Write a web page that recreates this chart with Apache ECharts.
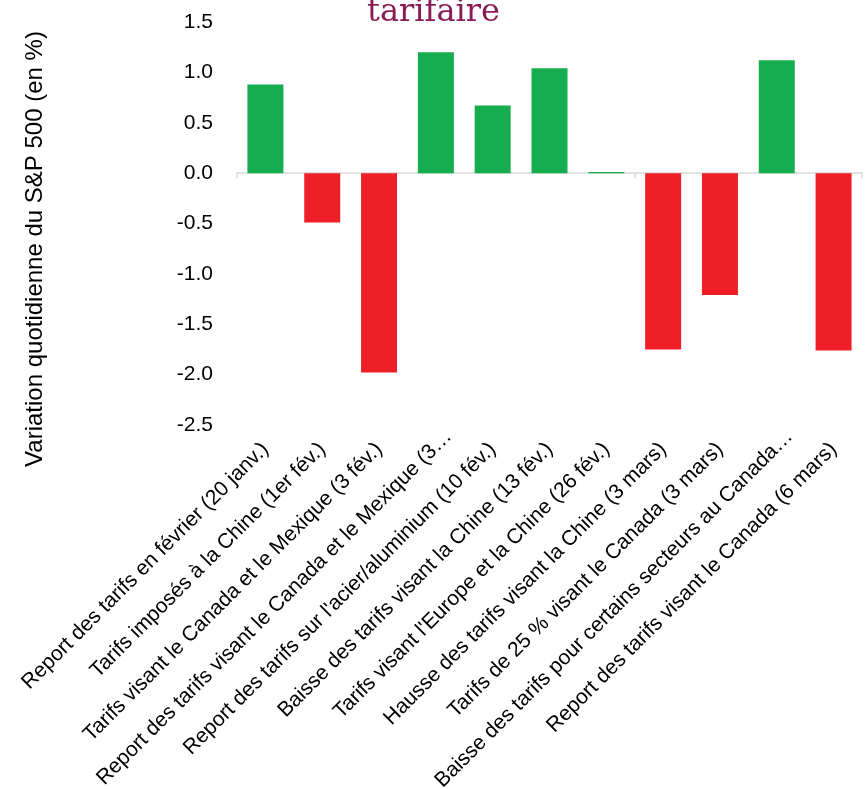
<!DOCTYPE html>
<html>
<head>
<meta charset="utf-8">
<script src="https://cdn.jsdelivr.net/npm/echarts@6/dist/echarts.min.js"></script>
<style>
  html, body { margin: 0; padding: 0; background: #fff; }
  #chart { width: 867px; height: 789px; }
</style>
</head>
<body>
<div id="chart"></div>
<script>
// événements tarifaires (libellés tels qu'affichés, tronqués compris)
const events = [
  'Report des tarifs en février (20 janv.)',
  'Tarifs imposés à la Chine (1er fév.)',
  'Tarifs visant le Canada et le Mexique (3 fév.)',
  'Report des tarifs visant le Canada et le Mexique (3…',
  "Report des tarifs sur l'acier/aluminium (10 fév.)",
  'Baisse des tarifs visant la Chine (13 fév.)',
  "Tarifs visant l'Europe et la Chine (26 fév.)",
  'Hausse des tarifs visant la Chine (3 mars)',
  'Tarifs de 25 % visant le Canada (3 mars)',
  'Baisse des tarifs pour certains secteurs au Canada…',
  'Report des tarifs visant le Canada (6 mars)'
];

// variation quotidienne du S&P 500 (en %)
const changes = [0.88, -0.49, -1.98, 1.20, 0.67, 1.04, 0.01, -1.75, -1.21, 1.12, -1.76];

const yTicks = { min: -2.5, max: 1.5, step: 0.5 };

const GREEN = '#15ad4f';
const RED = '#ee1f26';
const FONT = 'Liberation Sans, Arial, sans-serif';

const chart = echarts.init(document.getElementById('chart'));

// les libellés tronqués dépassent un peu vers la droite dans l'original
const labelData = events.map(name => name.endsWith('…')
  ? { value: name, textStyle: { padding: [0, -18, 0, 0] } }
  : name);

const option = {
  animation: false,
  title: {
    text: 'tarifaire',
    left: 'center',
    top: -8,
    textStyle: {
      fontFamily: 'DejaVu Serif, serif',
      fontSize: 32,
      fontWeight: 'normal',
      color: '#8a1c55'
    }
  },
  // outerBoundsMode none : sinon v6 réduit la grille pour loger les libellés
  grid: { left: 237, right: 5, top: 22, bottom: 364, containLabel: false, outerBoundsMode: 'none' },
  xAxis: [
    {
      type: 'category',
      data: events,
      axisLine: { onZero: true, lineStyle: { color: '#d9d9d9', width: 1.5 } },
      axisTick: { show: true, length: 5, lineStyle: { color: '#d9d9d9', width: 1.5 } },
      axisLabel: { show: false }
    },
    {
      type: 'category',
      data: labelData,
      position: 'bottom',
      axisLine: { show: false },
      axisTick: { show: false },
      axisLabel: {
        rotate: 45,
        interval: 0,
        margin: 21,
        color: '#000',
        fontFamily: FONT,
        fontSize: 21
      }
    }
  ],
  yAxis: {
    type: 'value',
    min: yTicks.min,
    max: yTicks.max,
    interval: yTicks.step,
    axisLine: { show: false },
    axisTick: { show: false },
    splitLine: { show: false },
    axisLabel: {
      margin: 24,
      color: '#000',
      fontFamily: FONT,
      fontSize: 21,
      formatter: v => v.toFixed(1)
    }
  },
  graphic: [
    {
      type: 'text',
      x: 35,
      y: 249,
      rotation: Math.PI / 2,
      style: {
        text: 'Variation quotidienne du S&P 500 (en %)',
        fontFamily: FONT,
        fontSize: 24,
        fill: '#000',
        align: 'center',
        verticalAlign: 'middle'
      }
    }
  ],
  series: [
    {
      type: 'bar',
      xAxisIndex: 0,
      barWidth: 36,
      data: changes.map(v => ({
        value: v,
        itemStyle: { color: v >= 0 ? GREEN : RED }
      }))
    }
  ]
};

chart.setOption(option);
</script>
</body>
</html>
